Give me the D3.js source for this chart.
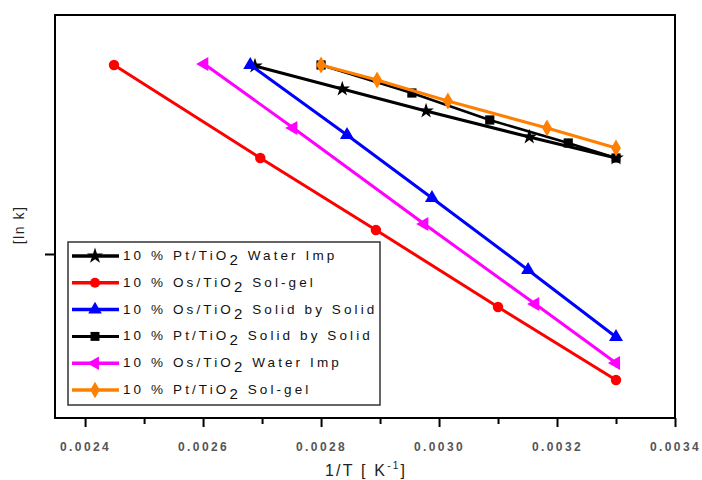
<!DOCTYPE html>
<html>
<head>
<meta charset="utf-8">
<script src="https://cdn.jsdelivr.net/npm/d3@7"></script>
<style>
  body { margin: 0; background: #fff; }
  svg { font-family: "Liberation Sans", Arial, sans-serif; }
</style>
</head>
<body>
<div id="chart"></div>
<script>
// series: 1/T [1/K] and ln k
const starX = [0.002688, 0.002836, 0.002978, 0.003153, 0.0033];
const starY = [-1.12, -1.35, -1.57, -1.83, -2.04];
const redX = [0.002449, 0.002697, 0.002893, 0.0031, 0.0033];
const redY = [-1.11, -2.04, -2.76, -3.53, -4.26];
const blueX = [0.00268, 0.002844, 0.002988, 0.003151, 0.0033];
const blueY = [-1.11, -1.81, -2.44, -3.16, -3.83];
const squareX = [0.0028, 0.002954, 0.003086, 0.003219, 0.0033];
const squareY = [-1.11, -1.39, -1.66, -1.89, -2.04];
const magentaX = [0.002602, 0.002753, 0.002975, 0.003163, 0.0033];
const magentaY = [-1.10, -1.74, -2.70, -3.50, -4.09];
const orangeX = [0.0028, 0.002895, 0.003015, 0.003183, 0.0033];
const orangeY = [-1.11, -1.26, -1.47, -1.74, -1.94];

const seriesNames = [
  ["10 % Pt/TiO", "2", " Water Imp"],
  ["10 % Os/TiO", "2", " Sol-gel"],
  ["10 % Os/TiO", "2", " Solid by Solid"],
  ["10 % Pt/TiO", "2", " Solid by Solid"],
  ["10 % Os/TiO", "2", " Water Imp"],
  ["10 % Pt/TiO", "2", " Sol-gel"]
];
const xTicks = [0.0024, 0.0026, 0.0028, 0.0030, 0.0032, 0.0034];
const xMinor = [0.0025, 0.0027, 0.0029, 0.0031, 0.0033];
const yTicks = [-3];

const series = [
  { x: starX, y: starY, color: "#000000", sym: d3.symbolStar, rot: 0, w: 3 },
  { x: redX, y: redY, color: "#ff0000", sym: d3.symbolCircle, rot: 0, w: 3 },
  { x: blueX, y: blueY, color: "#0000ff", sym: d3.symbolTriangle, rot: 0, w: 3 },
  { x: squareX, y: squareY, color: "#000000", sym: d3.symbolSquare, rot: 0, w: 2.5 },
  { x: magentaX, y: magentaY, color: "#ff00ff", sym: d3.symbolTriangle, rot: -90, w: 3 },
  { x: orangeX, y: orangeY, color: "#ff8000", sym: d3.symbolDiamond, rot: 0, w: 3 }
];

const width = 702, height = 480;
const m = { left: 55, right: 675, top: 15, bottom: 418 };

const svg = d3.select("#chart").append("svg")
  .attr("width", width)
  .attr("height", height);

const x = d3.scaleLinear().domain([0.002349, 0.0034]).range([m.left, m.right]);
const y = d3.scaleLinear().domain([-4.64, -0.61]).range([m.bottom, m.top]);

// frame
svg.append("rect")
  .attr("x", m.left).attr("y", m.top)
  .attr("width", m.right - m.left).attr("height", m.bottom - m.top)
  .attr("fill", "none").attr("stroke", "#000").attr("stroke-width", 2);

// x axis
const xAxis = svg.append("g")
  .attr("transform", "translate(0," + m.bottom + ")")
  .call(d3.axisBottom(x).tickValues(xTicks).tickSize(9).tickSizeOuter(0)
    .tickFormat(d3.format(".4f")));
xAxis.select(".domain").remove();
xAxis.selectAll("line").attr("stroke-width", 2);
xAxis.selectAll("text")
  .attr("y", 24)
  .style("font-size", "12px")
  .style("font-weight", "bold")
  .style("letter-spacing", "2.4px")
  .attr("fill", "#555");

svg.append("g")
  .attr("transform", "translate(0," + m.bottom + ")")
  .call(d3.axisBottom(x).tickValues(xMinor).tickSize(6).tickFormat(""))
  .call(g => g.select(".domain").remove())
  .selectAll("line").attr("stroke-width", 2);

// y axis: single tick, no label
svg.append("g")
  .attr("transform", "translate(" + m.left + ",0)")
  .call(d3.axisLeft(y).tickValues(yTicks).tickSize(10).tickFormat(""))
  .call(g => g.select(".domain").remove())
  .selectAll("line").attr("stroke-width", 2);

// axis titles
const xTitle = svg.append("text")
  .attr("x", 366).attr("y", 476)
  .attr("text-anchor", "middle")
  .style("font-size", "16px")
  .style("letter-spacing", "2.2px")
  .attr("fill", "#222");
xTitle.append("tspan").text("1/T  [ K");
xTitle.append("tspan").attr("dy", -7).style("font-size", "10px").text("-1");
xTitle.append("tspan").attr("dy", 7).text("]");

svg.append("text")
  .attr("transform", "translate(24,225) rotate(-90)")
  .attr("text-anchor", "middle")
  .style("font-size", "14px")
  .style("letter-spacing", "1.5px")
  .attr("fill", "#222")
  .text("[ln k]");

// lines and markers
const line = d3.line().x(d => x(d[0])).y(d => y(d[1]));
series.forEach(s => {
  const pts = s.x.map((v, i) => [v, s.y[i]]);
  svg.append("path")
    .datum(pts)
    .attr("d", line)
    .attr("fill", "none")
    .attr("stroke", s.color)
    .attr("stroke-width", s.w);
  svg.selectAll(null)
    .data(pts)
    .enter()
    .append("path")
    .attr("d", d3.symbol(s.sym, s.sym === d3.symbolStar ? 75 : 85))
    .attr("transform", d => "translate(" + x(d[0]) + "," + y(d[1]) + ") rotate(" + s.rot + ")")
    .attr("fill", s.color);
});

// legend
const legend = svg.append("g");
legend.append("rect")
  .attr("x", 68).attr("y", 242)
  .attr("width", 312).attr("height", 163)
  .attr("fill", "#fff").attr("stroke", "#333").attr("stroke-width", 1.5);

series.forEach((s, i) => {
  const ly = 256 + i * 26.8;
  const g = legend.append("g");
  g.append("line")
    .attr("x1", 72).attr("x2", 119)
    .attr("y1", ly).attr("y2", ly)
    .attr("stroke", s.color).attr("stroke-width", s.w + 0.5);
  g.append("path")
    .attr("d", d3.symbol(s.sym, 80))
    .attr("transform", "translate(95," + ly + ") rotate(" + s.rot + ")")
    .attr("fill", s.color);
  const t = g.append("text")
    .attr("x", 123).attr("y", ly + 4)
    .style("font-size", "13.5px")
    .style("letter-spacing", "3.1px")
    .attr("fill", "#111");
  t.append("tspan").text(seriesNames[i][0]);
  t.append("tspan").attr("dy", 5).style("font-size", "15px").text(seriesNames[i][1]);
  t.append("tspan").attr("dy", -5).text(seriesNames[i][2]);
});
</script>
</body>
</html>
